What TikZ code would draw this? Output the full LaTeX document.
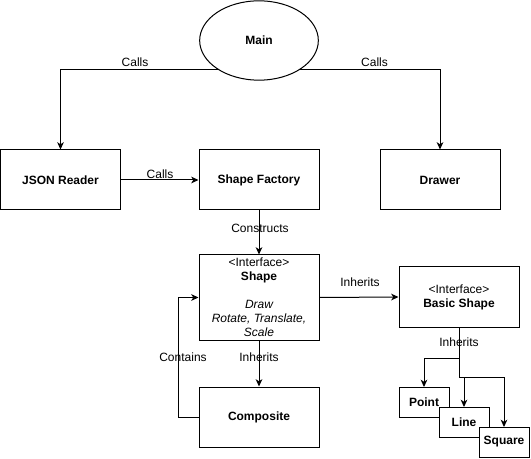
\documentclass[tikz,border=0pt]{standalone}
\usepackage{fontspec}
\setmainfont{Liberation Sans}
\usetikzlibrary{arrows.meta,shapes.geometric}
\tikzset{
  box/.style={draw=black, line width=0.75pt, fill=white, minimum width=90pt, minimum height=45pt, inner sep=0pt, align=center, font=\fontsize{9}{10.5}\selectfont\bfseries},
  smallbox/.style={box, minimum width=37.5pt, minimum height=22.5pt},
  lbl/.style={inner sep=0pt, font=\fontsize{9}{10.5}\selectfont},
  arr/.style={line width=0.75pt, -{Stealth[length=5.5pt,width=5pt,inset=1.6pt]}},
  con/.style={line width=0.75pt}
}
\begin{document}
\begin{tikzpicture}[x=0.75pt,y=-0.75pt]
\useasboundingbox (0,0) rectangle (531,459);
% nodes
\node[box, ellipse, minimum width=89pt, minimum height=59.5pt] (main) at (259,40.5) {Main};
\node[box] (json) at (60.5,180) {JSON Reader};
\node[box] (factory) at (259,180) {Shape Factory};
\node[box] (drawer) at (440,180) {Drawer};
\node[box, minimum height=63.75pt] (shape) at (259,297.5) {{\mdseries <Interface>}\\Shape\\[10.5pt]{\mdseries\itshape Draw}\\{\mdseries\itshape Rotate, Translate,}\\{\mdseries\itshape Scale}};
\node[box] (comp) at (259,417) {Composite};
\node[box] (basic) at (459,297) {{\mdseries <Interface>}\\Basic Shape};
% connectors
\draw[arr] (main.216) -| (json.north);
\draw[arr] (main.-36) -| (drawer.north);
\draw[arr] (json.east) -- (factory.west);
\draw[arr] (factory.south) -- (shape.north);
\draw[arr] (shape.south) -- (comp.north);
\draw[arr] (comp.west) -- ++(-20,0) |- (shape.west);
\draw[arr] (shape.east) -- (basic.west);
\draw[arr] (basic.south) -- ++(0,31) -| (424,387);
\draw[arr] (basic.south) -- ++(0,50) -| (464,407);
\draw[arr] (basic.south) -- ++(0,50) -| (504,427);
% small boxes
\node[smallbox] (point) at (424,402) {Point};
\node[smallbox] (line) at (464,422) {Line};
\node[smallbox] (square) at (504,442) {Square};
% labels
\node[lbl] (l1) at (135,62) {Calls};
\node[lbl] (l2) at (374.5,62) {Calls};
\node[lbl] (l3) at (160,174.5) {Calls};
\node[lbl] (l4) at (260,228.5) {Constructs};
\node[lbl] (l5) at (259,357.5) {Inherits};
\node[lbl] (l6) at (183,357.5) {Contains};
\node[lbl] (l7) at (360,282.5) {Inherits};
\node[lbl] (l8) at (459,342.5) {Inherits};
\end{tikzpicture}
\end{document}
